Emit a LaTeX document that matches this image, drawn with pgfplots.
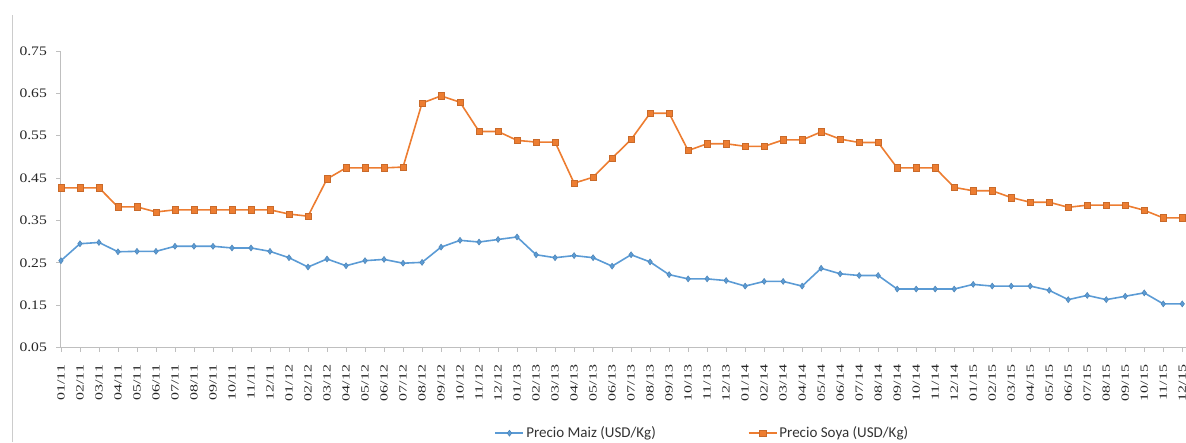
\documentclass[border=0pt]{standalone}
\usepackage{fontspec}
\usepackage{graphicx}
\usepackage{pgfplots}
\pgfplotsset{compat=1.18}
\setmainfont{Liberation Serif}
\newfontfamily\legfont{Carlito}

\definecolor{maiz}{RGB}{91,155,213}
\definecolor{soya}{RGB}{237,125,49}
\definecolor{axgray}{RGB}{191,191,191}

% month labels are set a little wide
\newcommand{\M}[1]{\scalebox{1.45}[1]{#1}}
\newcommand{\Y}[1]{\scalebox{1.2}[1]{#1}}

\begin{document}
\begin{tikzpicture}
\useasboundingbox (0pt,0pt) rectangle (1186pt,442pt);
% frame edge on the left
\draw[axgray!80, line width=1pt] (12pt,0pt) -- (12pt,427pt);
\begin{axis}[
  at={(60pt,94.5pt)}, anchor=south west,
  width=1126pt, height=296.5pt, scale only axis,
  xmin=-0.05, xmax=59.2,
  ymin=0.05, ymax=0.75,
  axis lines*=left,
  axis line style={axgray, line width=0.8pt},
  every tick/.style={axgray, line width=0.6pt},
  tick align=outside,
  major tick length=4pt,
  xtick={0,...,59},
  xticklabels={\M{01/11},\M{02/11},\M{03/11},\M{04/11},\M{05/11},\M{06/11},\M{07/11},\M{08/11},\M{09/11},\M{10/11},\M{11/11},\M{12/11},
               \M{01/12},\M{02/12},\M{03/12},\M{04/12},\M{05/12},\M{06/12},\M{07/12},\M{08/12},\M{09/12},\M{10/12},\M{11/12},\M{12/12},
               \M{01/13},\M{02/13},\M{03/13},\M{04/13},\M{05/13},\M{06/13},\M{07/13},\M{08/13},\M{09/13},\M{10/13},\M{11/13},\M{12/13},
               \M{01/14},\M{02/14},\M{03/14},\M{04/14},\M{05/14},\M{06/14},\M{07/14},\M{08/14},\M{09/14},\M{10/14},\M{11/14},\M{12/14},
               \M{01/15},\M{02/15},\M{03/15},\M{04/15},\M{05/15},\M{06/15},\M{07/15},\M{08/15},\M{09/15},\M{10/15},\M{11/15},\M{12/15}},
  xticklabel style={rotate=90, anchor=east, inner sep=0pt,
    font=\fontsize{11}{12}\selectfont, text=black!85},
  xticklabel shift=13pt,
  ytick={0.05,0.15,0.25,0.35,0.45,0.55,0.65,0.75},
  yticklabels={\Y{0.05},\Y{0.15},\Y{0.25},\Y{0.35},\Y{0.45},\Y{0.55},\Y{0.65},\Y{0.75}},
  yticklabel style={inner sep=0pt, font=\fontsize{13}{14}\selectfont, text=black!85},
  yticklabel shift=9pt,
  legend style={draw=none, fill=none, at={(0.5705,-0.289)}, anchor=center,
    font=\legfont\fontsize{15}{16}\selectfont, text=black!80,
    inner ysep=1pt,
    /tikz/every even column/.append style={column sep=90pt}},
  legend columns=2,
  legend image code/.code={
    \draw[mark repeat=2,mark phase=2,#1] plot coordinates {(0pt,0pt) (14pt,0pt) (28pt,0pt)};
  },
]
\addplot[color=maiz, line width=1.6pt, mark=diamond*, mark size=3pt,
  mark options={fill=maiz, draw=maiz!85!black, line width=0.5pt}]
coordinates {
(0,0.255)(1,0.295)(2,0.298)(3,0.276)(4,0.277)(5,0.277)(6,0.289)(7,0.289)(8,0.289)(9,0.285)
(10,0.285)(11,0.277)(12,0.262)(13,0.240)(14,0.259)(15,0.243)(16,0.255)(17,0.258)(18,0.249)(19,0.251)
(20,0.287)(21,0.303)(22,0.299)(23,0.305)(24,0.311)(25,0.269)(26,0.262)(27,0.267)(28,0.262)(29,0.242)
(30,0.269)(31,0.252)(32,0.222)(33,0.212)(34,0.212)(35,0.208)(36,0.195)(37,0.206)(38,0.206)(39,0.195)
(40,0.237)(41,0.224)(42,0.220)(43,0.220)(44,0.188)(45,0.188)(46,0.188)(47,0.188)(48,0.199)(49,0.195)
(50,0.195)(51,0.195)(52,0.185)(53,0.163)(54,0.173)(55,0.163)(56,0.171)(57,0.179)(58,0.153)(59,0.153)
};
\addlegendentry{Precio Maiz (USD/Kg)}
\addplot[color=soya, line width=1.6pt, mark=square*, mark size=3.2pt,
  mark options={fill=soya, draw=soya!85!black, line width=0.5pt}]
coordinates {
(0,0.427)(1,0.427)(2,0.427)(3,0.382)(4,0.382)(5,0.370)(6,0.375)(7,0.375)(8,0.375)(9,0.375)
(10,0.375)(11,0.375)(12,0.365)(13,0.360)(14,0.448)(15,0.474)(16,0.474)(17,0.474)(18,0.476)(19,0.627)
(20,0.644)(21,0.629)(22,0.560)(23,0.560)(24,0.539)(25,0.535)(26,0.535)(27,0.438)(28,0.452)(29,0.497)
(30,0.541)(31,0.603)(32,0.603)(33,0.515)(34,0.531)(35,0.531)(36,0.525)(37,0.525)(38,0.540)(39,0.540)
(40,0.559)(41,0.542)(42,0.534)(43,0.534)(44,0.474)(45,0.474)(46,0.474)(47,0.428)(48,0.420)(49,0.420)
(50,0.404)(51,0.393)(52,0.393)(53,0.381)(54,0.386)(55,0.386)(56,0.386)(57,0.374)(58,0.356)(59,0.356)
};
\addlegendentry{Precio Soya (USD/Kg)}
\end{axis}
\end{tikzpicture}
\end{document}
